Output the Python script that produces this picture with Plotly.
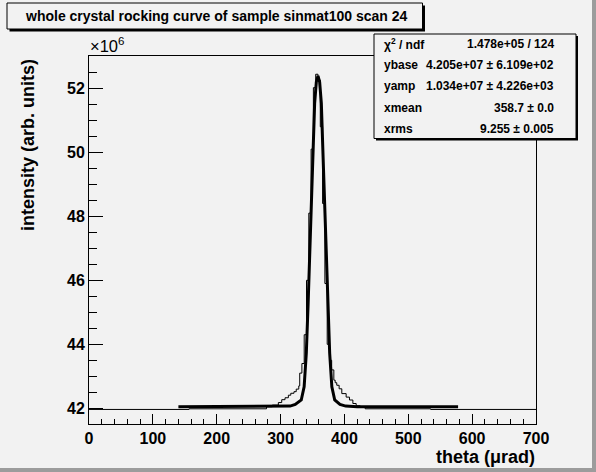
import plotly.graph_objects as go

# histogram (step outline), theta in urad, intensity in 1e6
hist_theta = [0, 156.5, 278, 287, 296.5, 301.8, 307, 312.2, 316, 321, 324.5, 328.5, 330,
              333.4, 337, 340.6, 344.2, 347.8, 351.4, 355, 358.6, 362.2, 365.8, 369.4,
              373, 376.6, 380, 383.4, 385.5, 388, 391.7, 395.9, 402.7, 407.9, 413.2,
              418.4, 424.6, 432.5, 535, 700]
hist_val = [41.965, 41.985, 42.05, 42.1, 42.18, 42.27, 42.33, 42.41, 42.47, 42.52, 42.6, 42.7,
            43.1, 43.4, 44.3, 46.0, 48.1, 50.1, 52.02, 52.44, 52.26, 50.8, 48.4, 45.9,
            44.0, 43.5, 43.2, 42.88, 42.8, 42.72, 42.61, 42.46, 42.35, 42.26, 42.15,
            42.08, 42.03, 41.985, 41.965, 41.965]

# fitted curve
fit_theta = [140, 300, 315, 323, 332.4, 336.9, 340.3, 343.15, 346.8, 349.95, 353.35, 356,
             358.6, 361.2, 363.85, 367.25, 370.4, 374.05, 376.9, 380.3, 384.8, 393, 402, 420, 578]
fit_val = [42.05, 42.05, 42.07, 42.12, 42.26, 42.67, 43.72, 45.28, 47.36, 49.45, 51.53, 52.2,
           52.39, 52.2, 51.53, 49.45, 47.36, 45.28, 43.72, 42.67, 42.26, 42.12, 42.07, 42.05, 42.05]

stat_names = ["χ<sup>2</sup> / ndf", "ybase", "yamp", "xmean", "xrms"]
stat_values = ["1.478e+05 / 124", "4.205e+07 ± 6.109e+02", "1.034e+07 ± 4.226e+03",
               "358.7 ± 0.0", "9.255 ± 0.005"]

title = "whole crystal rocking curve of sample sinmat100 scan 24"

W, H = 596, 472
ML, MR, MT, MB = 89, 60, 56, 48
PW, PH = W - ML - MR, H - MT - MB
BG = "#f2f2f2"
FONT = "Liberation Sans, Arial, Helvetica, sans-serif"


def px(x):
    return (x - ML) / PW


def py(y):
    return 1 - (y - MT) / PH


def box(x0, y0, x1, y1, **kw):
    return dict(type="rect", xref="paper", yref="paper",
                x0=px(x0), x1=px(x1), y0=py(y1), y1=py(y0), **kw)


fig = go.Figure()
fig.add_trace(go.Scatter(x=hist_theta, y=hist_val, mode="lines", line_shape="hv",
                         line=dict(color="black", width=1), showlegend=False))
fig.add_trace(go.Scatter(x=fit_theta, y=fit_val, mode="lines",
                         line=dict(color="black", width=3), showlegend=False))

shapes = [
    # canvas bevel
    box(592, 0, 596, 472, fillcolor="#9c9c9c", line_width=0),
    box(0, 468, 596, 472, fillcolor="#9c9c9c", line_width=0),
    # title box + shadow
    box(9.5, 5.5, 425, 31.5, fillcolor="black", line_width=0),
    box(7, 3, 422.5, 29, fillcolor=BG, line=dict(color="black", width=1)),
    # stats box + shadow
    box(376, 36, 578, 140.5, fillcolor="black", line_width=0),
    box(374, 34, 576, 138.5, fillcolor=BG, line=dict(color="black", width=1)),
]

annotations = [
    dict(text="<b>" + title + "</b>", x=px(23), y=py(16.5), xanchor="left", yanchor="middle",
         font=dict(size=14, color="black")),
    dict(text="×10<sup>6</sup>", x=px(88), y=py(57), xanchor="left", yanchor="bottom",
         font=dict(size=16.5, color="black")),
    dict(text="<b>theta (μrad)</b>", x=px(537), y=py(457), xanchor="right", yanchor="middle",
         font=dict(size=18, color="black")),
    dict(text="<b>intensity (arb. units)</b>", textangle=-90, x=px(28), y=py(57),
         xanchor="center", yanchor="top", font=dict(size=18, color="black")),
]
row_y = [44, 64.5, 86, 107.5, 128.5]
for name, val, yy in zip(stat_names, stat_values, row_y):
    annotations.append(dict(text="<b>" + name + "</b>", x=px(382), y=py(yy), xanchor="left",
                            yanchor="middle", font=dict(size=12, color="black")))
    annotations.append(dict(text="<b>" + val + "</b>", x=px(556), y=py(yy), xanchor="right",
                            yanchor="middle", font=dict(size=12, color="black")))
for a in annotations:
    a.update(xref="paper", yref="paper", showarrow=False)

fig.update_layout(
    width=W, height=H,
    margin=dict(l=ML, r=MR, t=MT, b=MB, pad=0),
    paper_bgcolor=BG, plot_bgcolor=BG,
    font=dict(family=FONT, color="black"),
    shapes=shapes, annotations=annotations,
    xaxis=dict(range=[0, 700], dtick=100, tick0=0, ticks="inside", ticklen=10,
               tickcolor="black", showgrid=False, zeroline=False,
               showline=True, linecolor="black", linewidth=1, mirror=True,
               tickfont=dict(size=16, weight="bold"),
               minor=dict(dtick=20, ticks="inside", ticklen=5, tickcolor="black")),
    yaxis=dict(range=[41.51, 53.01], dtick=2, tick0=0, ticks="inside", ticklen=14,
               tickcolor="black", showgrid=False, zeroline=False,
               showline=True, linecolor="black", linewidth=1, mirror=True,
               tickfont=dict(size=16, weight="bold"),
               minor=dict(dtick=0.5, ticks="inside", ticklen=8, tickcolor="black")),
)

# the page's default body margin would shift the whole chart by 8 px
fig.write_html("out.html", config={"displayModeBar": False},
               post_script="document.body.style.margin='0';")
